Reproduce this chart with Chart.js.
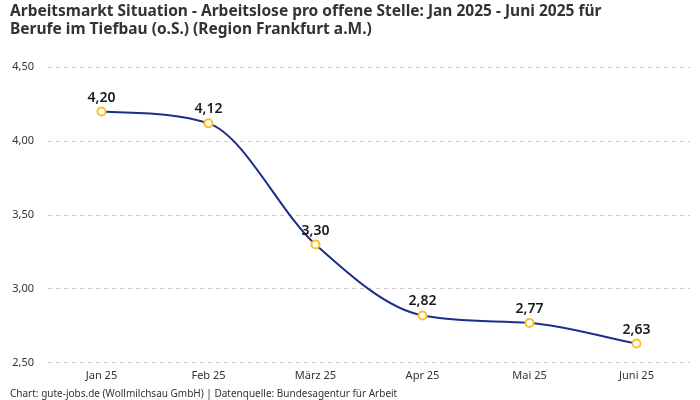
<!DOCTYPE html>
<html>
<head>
<meta charset="utf-8">
<script src="https://cdn.jsdelivr.net/npm/chart.js@4"></script>
<style>
  html, body { margin: 0; padding: 0; background: #fff; }
  #wrap { width: 700px; height: 400px; }
</style>
</head>
<body>
<div id="wrap"><canvas id="chart"></canvas></div>
<script>
const months = ['Jan 25', 'Feb 25', 'März 25', 'Apr 25', 'Mai 25', 'Juni 25'];
const ratio = [4.20, 4.12, 3.30, 2.82, 2.77, 2.63];
const yTicks = [2.5, 3.0, 3.5, 4.0, 4.5];

const fmt = v => v.toFixed(2).replace('.', ',');

// labels above each point
const pointLabels = {
  id: 'pointLabels',
  afterDatasetsDraw(chart) {
    const ctx = chart.ctx;
    const meta = chart.getDatasetMeta(0);
    ctx.save();
    ctx.font = '600 14px "Noto Sans", sans-serif';
    ctx.fillStyle = '#1a1a1a';
    ctx.textAlign = 'center';
    ctx.textBaseline = 'bottom';
    meta.data.forEach((pt, i) => {
      ctx.fillText(fmt(ratio[i]), pt.x, pt.y - 7);
    });
    ctx.restore();
  }
};

new Chart(document.getElementById('chart'), {
  type: 'line',
  data: {
    labels: months,
    datasets: [{
      data: ratio,
      borderColor: '#1c2d8f',
      borderWidth: 2,
      cubicInterpolationMode: 'monotone',
      pointBackgroundColor: '#ffffff',
      pointBorderColor: '#f7c325',
      pointBorderWidth: 2,
      pointRadius: 4,
      fill: false
    }]
  },
  options: {
    responsive: true,
    maintainAspectRatio: false,
    animation: false,
    layout: { padding: { left: 10, right: 10, top: 0, bottom: 0 } },
    plugins: {
      legend: { display: false },
      tooltip: { enabled: false },
      title: {
        display: true,
        text: ['Arbeitsmarkt Situation - Arbeitslose pro offene Stelle: Jan 2025 - Juni 2025 für',
               'Berufe im Tiefbau (o.S.) (Region Frankfurt a.M.)'],
        align: 'start',
        color: '#333333',
        font: { family: '"Noto Sans", sans-serif', size: 15.5, weight: 'bold', lineHeight: 1.2 },
        padding: { top: 2, bottom: 28 }
      },
      subtitle: {
        display: true,
        position: 'bottom',
        text: 'Chart: gute-jobs.de (Wollmilchsau GmbH) | Datenquelle: Bundesagentur für Arbeit',
        align: 'start',
        color: '#333333',
        font: { family: '"Noto Sans", sans-serif', size: 10 },
        padding: { top: 0, bottom: 0 }
      }
    },
    scales: {
      x: {
        offset: true,
        grid: { display: false, drawTicks: false },
        border: { display: false },
        ticks: { color: '#333333', font: { family: '"Noto Sans", sans-serif', size: 11 }, padding: 6 }
      },
      y: {
        min: 2.5,
        max: 4.5,
        afterBuildTicks: axis => { axis.ticks = yTicks.map(v => ({ value: v })); },
        afterFit: axis => { axis.width = 38; },
        grid: { color: '#cccccc', drawTicks: false },
        border: { display: false, dash: [4, 4] },
        ticks: {
          color: '#333333',
          font: { family: '"Noto Sans", sans-serif', size: 11 },
          padding: 14,
          callback: v => fmt(v)
        }
      }
    }
  },
  plugins: [pointLabels]
});
</script>
</body>
</html>
